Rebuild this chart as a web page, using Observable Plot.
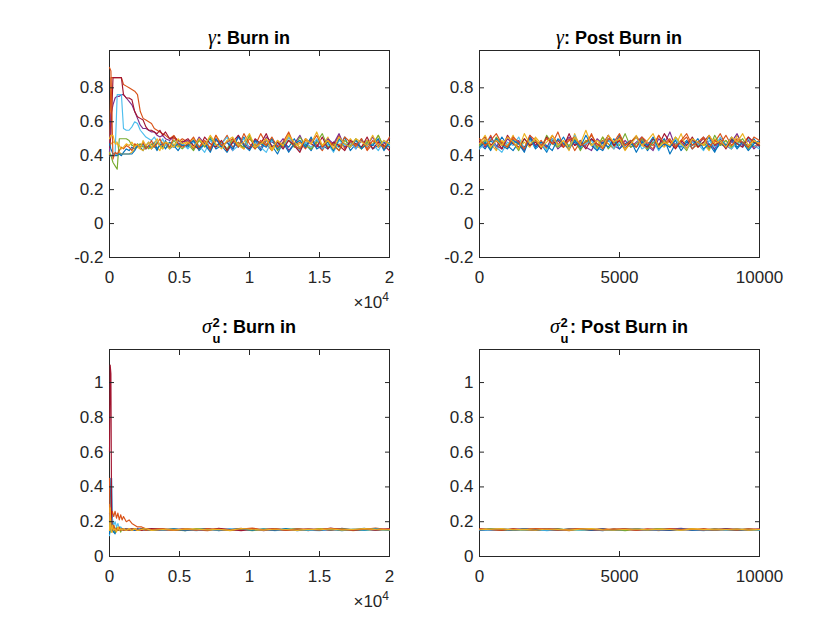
<!DOCTYPE html>
<html>
<head>
<meta charset="utf-8">
<script src="https://cdn.jsdelivr.net/npm/d3@7"></script>
<script src="https://cdn.jsdelivr.net/npm/@observablehq/plot@0.6"></script>
<style>
  body { margin: 0; background: #fff; }
  #wrap { position: relative; width: 840px; height: 630px; background: #fff; font-family: "Liberation Sans", Arial, sans-serif; overflow: hidden; }
  .ttl { position: absolute; width: 280px; text-align: center; font-size: 18px; line-height: 18px; font-weight: bold; color: #000; white-space: nowrap; }
  .gr { font-family: "Liberation Serif", "DejaVu Serif", serif; font-style: italic; font-weight: normal; font-size: 20px; }
  .ss { display: inline-block; position: relative; width: 10px; height: 0; }
  .ss span { position: absolute; left: 0.5px; font-size: 13px; line-height: 11px; font-weight: bold; }
  .ss .sp { bottom: 4.7px; }
  .ss .sb { bottom: -10.6px; }
  .exp { position: absolute; right: 451px; font-size: 17px; line-height: 17px; color: #262626; white-space: nowrap; }
  .exp sup { font-size: 12px; vertical-align: baseline; position: relative; top: -0.6em; }
</style>
</head>
<body>
<div id="wrap">
  <div class="ttl" style="left:109px; top:28px"><span class="gr">γ</span>: Burn in</div>
  <div class="ttl" style="left:479px; top:28px"><span class="gr">γ</span>: Post Burn in</div>
  <div class="ttl" style="left:109px; top:317px"><span class="gr">σ</span><span class="ss"><span class="sp">2</span><span class="sb">u</span></span>: Burn in</div>
  <div class="ttl" style="left:479px; top:317px"><span class="gr">σ</span><span class="ss"><span class="sp">2</span><span class="sb">u</span></span>: Post Burn in</div>
  <div class="exp" style="top:294px">×10<sup>4</sup></div>
  <div class="exp" style="top:593px">×10<sup>4</sup></div>
</div>
<script>
// MATLAB default colour order, cycled over 10 chains
const chainColors = ["#0072BD","#D95319","#EDB120","#7E2F8E","#77AC30","#4DBEEE","#A2142F","#0072BD","#D95319","#EDB120"];

// ---------- gamma, burn-in (iterations) ----------
const gBurnX = [0,100,250,400,550,700,850,1000,1200,1400,1600,1800,2000,2200,2400,2600,2800,3000,3200,3400,3600,3800,4000,4300,4600,4900,5200,
  5600,6000,6400,6800,7200,7600,8000,8400,8800,9200,9600,10000,10400,10800,11200,11600,12000,12400,12800,13200,13600,14000,14400,14800,15200,15600,16000,16400,16800,17200,17600,18000,18400,18800,19200,19600,20000];
const gB1 = [.41,.40,.40,.40,.40,.41,.40,.42,.44,.43,.45,.44,.47,.45,.43,.46,.48,.44,.46,.43,.47,.45,.49,.44,.46,.43,.47,
  .45,.49,.43,.47,.50,.44,.46,.42,.48,.45,.51,.44,.47,.43,.49,.46,.41,.48,.45,.50,.44,.47,.43,.49,.46,.44,.48,.45,.51,.43,.47,.45,.49,.44,.46,.48,.45];
const gB2 = [.40,.86,.86,.86,.86,.86,.86,.82,.81,.80,.79,.78,.76,.66,.62,.61,.60,.59,.56,.55,.54,.53,.52,.50,.52,.48,.50,
  .48,.44,.50,.46,.43,.49,.47,.52,.45,.48,.44,.50,.46,.53,.47,.43,.49,.45,.51,.46,.48,.44,.50,.47,.43,.49,.46,.52,.44,.48,.45,.50,.43,.47,.49,.44,.46];
const gB3 = [.44,.47,.48,.48,.48,.42,.41,.41,.41,.41,.42,.44,.45,.44,.43,.46,.45,.44,.47,.45,.43,.48,.46,.44,.47,.45,.49,
  .46,.50,.44,.48,.45,.52,.47,.43,.49,.46,.44,.51,.47,.45,.50,.43,.48,.46,.53,.45,.47,.49,.44,.48,.46,.51,.43,.47,.45,.50,.46,.44,.49,.47,.52,.45,.48];
const gB4 = [.42,.64,.70,.74,.75,.75,.76,.76,.74,.72,.70,.66,.62,.58,.56,.56,.55,.54,.54,.52,.51,.52,.50,.49,.51,.47,.48,
  .49,.45,.51,.47,.44,.50,.46,.48,.43,.52,.47,.45,.49,.44,.51,.48,.46,.50,.43,.47,.52,.45,.49,.46,.44,.50,.47,.53,.45,.48,.44,.49,.46,.51,.45,.47,.50];
const gB5 = [.42,.40,.36,.34,.32,.50,.50,.50,.50,.49,.46,.46,.46,.47,.45,.46,.44,.47,.45,.48,.46,.44,.47,.45,.49,.46,.44,
  .47,.43,.49,.45,.51,.46,.48,.44,.50,.47,.45,.52,.44,.48,.46,.50,.43,.47,.49,.45,.51,.46,.44,.48,.53,.45,.47,.43,.49,.46,.50,.44,.48,.46,.52,.45,.47];
const gB6 = [.40,.40,.41,.41,.76,.76,.76,.56,.55,.55,.57,.60,.59,.55,.53,.51,.50,.49,.51,.48,.47,.50,.46,.48,.45,.49,.47,
  .44,.48,.46,.42,.49,.45,.47,.51,.43,.46,.50,.44,.48,.45,.42,.49,.47,.44,.51,.46,.43,.48,.45,.50,.44,.47,.42,.49,.46,.48,.44,.50,.45,.47,.43,.49,.46];
const gB7 = [.45,.52,.86,.86,.86,.86,.86,.76,.74,.74,.73,.66,.63,.62,.61,.57,.55,.55,.54,.53,.55,.52,.54,.50,.51,.49,.48,
  .50,.46,.44,.51,.47,.45,.49,.43,.48,.52,.46,.44,.50,.47,.53,.45,.48,.44,.49,.46,.42,.50,.47,.45,.51,.44,.48,.46,.43,.49,.47,.45,.51,.44,.48,.46,.43];
const gB8 = [.47,.44,.41,.41,.41,.41,.41,.41,.41,.41,.41,.43,.46,.45,.47,.44,.46,.45,.48,.44,.46,.47,.44,.48,.45,.47,.46,
  .46,.49,.44,.47,.42,.50,.45,.48,.44,.51,.46,.43,.49,.47,.45,.50,.44,.48,.42,.47,.49,.45,.51,.44,.46,.48,.43,.50,.47,.45,.49,.44,.47,.46,.50,.43,.48];
const gB9 = [.92,.90,.38,.42,.41,.43,.45,.44,.46,.45,.43,.47,.46,.45,.48,.44,.46,.49,.45,.47,.50,.46,.48,.45,.51,.47,.45,
  .47,.51,.45,.49,.44,.52,.46,.48,.50,.45,.53,.47,.44,.49,.46,.51,.45,.48,.54,.46,.44,.50,.47,.52,.45,.49,.46,.43,.51,.48,.46,.50,.44,.49,.47,.45,.51];
const gB10 = [.50,.52,.52,.47,.47,.46,.44,.45,.47,.46,.48,.45,.47,.44,.49,.46,.48,.45,.47,.50,.46,.44,.48,.47,.45,.50,.47,
  .48,.45,.50,.46,.52,.47,.44,.49,.51,.46,.48,.53,.45,.47,.50,.44,.49,.46,.52,.48,.45,.50,.47,.54,.46,.49,.44,.51,.47,.45,.50,.48,.46,.52,.45,.49,.47];

// ---------- gamma, post burn-in ----------
const gPostX = [0,200,400,600,800,1000,1200,1400,1600,1800,2000,2200,2400,2600,2800,3000,3200,3400,3600,3800,4000,4200,4400,4600,4800,5000,
  5200,5400,5600,5800,6000,6200,6400,6600,6800,7000,7200,7400,7600,7800,8000,8200,8400,8600,8800,9000,9200,9400,9600,9800,10000];
const gP1 = [.47,.44,.49,.45,.51,.46,.43,.48,.45,.50,.44,.47,.42,.49,.46,.51,.45,.48,.44,.47,.50,.45,.43,.49,.46,.52,.44,.47,.45,.49,.43,.48,.46,.50,.41,.47,.45,.49,.44,.48,.46,.51,.43,.47,.45,.49,.44,.48,.46,.50,.45];
const gP2 = [.49,.46,.52,.44,.48,.45,.50,.47,.43,.51,.46,.49,.44,.52,.47,.45,.50,.43,.48,.46,.53,.45,.49,.47,.44,.51,.46,.48,.45,.50,.47,.44,.52,.46,.49,.45,.48,.51,.44,.47,.50,.45,.48,.53,.46,.44,.49,.47,.51,.45,.48];
const gP3 = [.45,.50,.47,.43,.49,.46,.52,.44,.48,.45,.51,.47,.44,.50,.46,.48,.43,.53,.45,.49,.46,.44,.51,.47,.45,.49,.43,.48,.52,.46,.44,.50,.47,.45,.49,.46,.53,.44,.48,.45,.47,.43,.50,.46,.49,.44,.52,.47,.45,.49,.46];
const gP4 = [.48,.45,.51,.46,.44,.50,.47,.49,.43,.52,.46,.48,.45,.50,.44,.47,.51,.46,.49,.45,.43,.50,.47,.52,.46,.44,.49,.45,.48,.51,.46,.43,.50,.47,.54,.45,.48,.44,.49,.46,.51,.47,.44,.50,.45,.48,.53,.46,.49,.44,.47];
const gP5 = [.46,.49,.44,.51,.47,.45,.48,.43,.50,.46,.49,.44,.52,.47,.45,.48,.46,.50,.43,.49,.47,.45,.51,.44,.48,.46,.53,.45,.47,.50,.44,.48,.46,.49,.45,.51,.47,.43,.50,.46,.48,.44,.52,.46,.49,.45,.47,.50,.44,.48,.46];
const gP6 = [.44,.47,.50,.45,.42,.48,.46,.51,.44,.49,.45,.47,.43,.50,.46,.48,.44,.52,.45,.47,.49,.43,.46,.50,.44,.48,.45,.47,.51,.44,.46,.49,.43,.48,.45,.50,.46,.44,.48,.47,.43,.49,.45,.51,.46,.44,.48,.45,.50,.46,.44];
const gP7 = [.48,.51,.46,.49,.44,.52,.47,.45,.50,.46,.48,.44,.51,.47,.49,.45,.53,.46,.48,.44,.50,.47,.45,.52,.46,.49,.44,.48,.51,.47,.45,.50,.46,.53,.48,.44,.49,.46,.51,.45,.48,.52,.46,.49,.44,.50,.47,.45,.51,.48,.46];
const gP8 = [.45,.48,.43,.50,.46,.44,.49,.47,.42,.51,.45,.48,.46,.43,.50,.47,.44,.49,.45,.52,.46,.43,.48,.45,.50,.44,.47,.49,.42,.48,.46,.51,.44,.47,.45,.49,.43,.48,.46,.50,.44,.47,.42,.49,.46,.51,.45,.48,.43,.47,.49];
const gP9 = [.50,.46,.49,.53,.47,.45,.51,.48,.44,.52,.49,.46,.50,.47,.54,.45,.49,.51,.46,.48,.52,.47,.44,.50,.48,.53,.46,.49,.45,.51,.48,.46,.52,.47,.50,.45,.49,.53,.46,.48,.51,.45,.49,.47,.52,.46,.50,.48,.45,.51,.49];
const gP10 = [.47,.52,.45,.49,.46,.51,.48,.44,.53,.47,.50,.45,.48,.52,.46,.49,.44,.51,.47,.55,.46,.49,.45,.52,.48,.50,.44,.47,.51,.46,.49,.53,.45,.48,.46,.51,.47,.44,.50,.48,.46,.52,.47,.49,.45,.51,.48,.53,.46,.49,.47];

// ---------- sigma_u^2, burn-in ----------
const sBurnX = [0,50,100,150,200,300,400,500,600,700,800,900,1000,1200,1400,1600,1800,2000,2300,2600,3000,
  3800,4600,5400,6200,7000,7800,8600,9400,10200,11000,11800,12600,13400,14200,15000,15800,16600,17400,18200,19000,20000];
const sB1 = [.20,.30,.45,.45,.18,.14,.13,.17,.15,.16,.15,.16,.15,.16,.15,.16,.155,.15,.16,.155,.15,
  .152,.158,.150,.156,.161,.149,.155,.159,.151,.157,.153,.160,.148,.156,.152,.158,.150,.155,.162,.151,.156];
const sB2 = [.22,.26,.27,.24,.26,.23,.26,.22,.25,.21,.24,.21,.23,.20,.21,.19,.18,.17,.17,.16,.16,
  .157,.151,.160,.153,.149,.158,.155,.162,.150,.156,.159,.152,.157,.149,.161,.154,.158,.151,.156,.163,.153];
const sB3 = [.30,.14,.15,.16,.14,.17,.15,.16,.15,.16,.15,.16,.15,.155,.16,.15,.16,.155,.15,.16,.155,
  .154,.160,.151,.157,.153,.159,.148,.156,.161,.152,.155,.150,.158,.154,.160,.151,.157,.149,.155,.159,.152];
const sB4 = [.25,.18,.16,.15,.17,.15,.16,.15,.16,.15,.16,.155,.15,.16,.155,.15,.16,.15,.155,.16,.15,
  .150,.155,.161,.152,.158,.150,.156,.153,.160,.149,.157,.154,.151,.159,.155,.150,.162,.153,.157,.151,.158];
const sB5 = [.15,.20,.14,.19,.15,.18,.14,.17,.15,.16,.14,.16,.15,.16,.15,.155,.16,.15,.16,.155,.15,
  .158,.153,.149,.160,.154,.157,.151,.155,.148,.159,.152,.156,.161,.150,.157,.153,.159,.155,.150,.156,.154];
const sB6 = [.12,.16,.22,.20,.22,.18,.20,.17,.19,.16,.17,.16,.15,.16,.15,.16,.15,.16,.155,.15,.16,
  .151,.157,.154,.148,.156,.152,.160,.150,.155,.158,.149,.154,.157,.152,.148,.159,.153,.156,.151,.157,.150];
const sB7 = [.60,1.1,1.05,.22,.15,.17,.15,.16,.15,.16,.155,.15,.16,.15,.155,.16,.15,.16,.15,.155,.16,
  .156,.150,.158,.154,.151,.162,.155,.149,.157,.153,.160,.151,.155,.158,.152,.164,.154,.150,.157,.153,.159];
const sB8 = [.13,.22,.17,.15,.16,.14,.16,.15,.16,.15,.16,.15,.155,.16,.15,.16,.15,.155,.16,.15,.155,
  .153,.159,.149,.155,.157,.151,.154,.160,.152,.156,.150,.158,.153,.155,.151,.157,.149,.156,.153,.158,.151];
const sB9 = [.45,.20,.17,.15,.16,.18,.15,.16,.15,.17,.15,.16,.15,.16,.15,.16,.155,.15,.16,.15,.155,
  .159,.154,.156,.151,.160,.155,.152,.158,.163,.154,.156,.151,.159,.155,.153,.161,.156,.152,.158,.154,.157];
const sB10 = [.15,.28,.16,.14,.18,.15,.16,.14,.17,.15,.16,.15,.16,.15,.16,.15,.16,.15,.155,.16,.15,
  .155,.152,.159,.157,.153,.156,.150,.161,.155,.152,.158,.155,.150,.157,.154,.159,.152,.156,.160,.155,.153];

// ---------- sigma_u^2, post burn-in ----------
const sPostX = [0,400,800,1200,1600,2000,2400,2800,3200,3600,4000,4400,4800,5200,5600,6000,6400,6800,7200,7600,8000,8400,8800,9200,9600,10000];
const sP1 = [.156,.151,.158,.153,.160,.150,.155,.157,.152,.159,.154,.149,.157,.153,.158,.151,.156,.160,.152,.155,.150,.157,.153,.159,.151,.155];
const sP2 = [.152,.158,.154,.150,.157,.161,.153,.156,.149,.158,.155,.160,.151,.157,.154,.150,.159,.153,.156,.152,.161,.154,.150,.158,.155,.153];
const sP3 = [.158,.153,.150,.156,.152,.159,.155,.151,.157,.154,.150,.158,.155,.161,.152,.156,.149,.157,.153,.159,.155,.151,.157,.154,.160,.152];
const sP4 = [.150,.155,.159,.152,.156,.153,.158,.150,.155,.160,.153,.157,.151,.155,.159,.154,.151,.157,.162,.153,.156,.150,.158,.153,.155,.157];
const sP5 = [.155,.160,.152,.157,.150,.156,.153,.159,.154,.151,.158,.152,.156,.149,.157,.155,.160,.151,.155,.158,.152,.159,.154,.151,.156,.154];
const sP6 = [.153,.150,.157,.155,.152,.158,.149,.154,.156,.152,.157,.150,.154,.158,.151,.155,.153,.150,.157,.154,.149,.156,.152,.155,.158,.151];
const sP7 = [.157,.154,.151,.159,.155,.152,.160,.156,.153,.158,.151,.156,.154,.159,.152,.157,.155,.150,.158,.154,.156,.152,.160,.155,.153,.158];
const sP8 = [.151,.157,.155,.150,.158,.153,.156,.151,.159,.155,.152,.158,.150,.155,.157,.153,.156,.152,.158,.151,.155,.153,.157,.150,.156,.154];
const sP9 = [.159,.155,.153,.158,.154,.160,.156,.152,.157,.161,.155,.153,.159,.156,.152,.158,.154,.160,.155,.157,.153,.158,.156,.152,.159,.155];
const sP10 = [.154,.157,.160,.153,.156,.151,.158,.155,.152,.157,.160,.154,.151,.156,.158,.153,.157,.155,.151,.159,.156,.153,.155,.158,.152,.156];

// ---------- axis ticks ----------
const burnTicks = [0,5000,10000,15000,20000];
const burnTickLabels = ["0","0.5","1","1.5","2"];
const postTicks = [0,5000,10000];
const gammaYTicks = [-0.2,0,0.2,0.4,0.6,0.8];
const sigmaYTicks = [0,0.2,0.4,0.6,0.8,1];

function panel({xs, chains, xDomain, xTicks, xFmt, yDomain, yTicks, left, top}) {
  const marks = [Plot.frame({stroke: "#262626", strokeWidth: 1})];
  chains.forEach((ys, i) => {
    marks.push(Plot.line(ys, {x: (d, j) => xs[j], y: d => d, stroke: chainColors[i], strokeWidth: 1.15}));
  });
  marks.push(
    Plot.axisX(xTicks, {anchor: "bottom", tickSize: -5, tickPadding: 18, tickFormat: xFmt, label: null, stroke: "#262626", fill: "#262626"}),
    Plot.axisX(xTicks, {anchor: "top", tickSize: -5, fill: "none", label: null, stroke: "#262626"}),
    Plot.axisY(yTicks, {anchor: "left", tickSize: -5, tickPadding: 11, tickFormat: d => String(d), label: null, stroke: "#262626", fill: "#262626"}),
    Plot.axisY(yTicks, {anchor: "right", tickSize: -5, fill: "none", label: null, stroke: "#262626"})
  );
  const svg = Plot.plot({
    width: 360, height: 267,
    marginLeft: 60, marginRight: 20, marginTop: 20, marginBottom: 40,
    x: {domain: xDomain},
    y: {domain: yDomain},
    style: {fontFamily: "'Liberation Sans', Arial, sans-serif", fontSize: "17px", background: "transparent", overflow: "visible", color: "#262626"},
    marks
  });
  svg.style.position = "absolute";
  svg.style.left = left + "px";
  svg.style.top = top + "px";
  document.getElementById("wrap").appendChild(svg);
}

const burnFmt = d => burnTickLabels[burnTicks.indexOf(d)];
const postFmt = d => String(d);

panel({xs: gBurnX, chains: [gB1,gB2,gB3,gB4,gB5,gB6,gB7,gB8,gB9,gB10], xDomain: [0,20000], xTicks: burnTicks, xFmt: burnFmt, yDomain: [-0.2,1.02], yTicks: gammaYTicks, left: 49, top: 30});
panel({xs: gPostX, chains: [gP1,gP2,gP3,gP4,gP5,gP6,gP7,gP8,gP9,gP10], xDomain: [0,10000], xTicks: postTicks, xFmt: postFmt, yDomain: [-0.2,1.02], yTicks: gammaYTicks, left: 419, top: 30});
panel({xs: sBurnX, chains: [sB1,sB2,sB3,sB4,sB5,sB6,sB7,sB8,sB9,sB10], xDomain: [0,20000], xTicks: burnTicks, xFmt: burnFmt, yDomain: [0,1.19], yTicks: sigmaYTicks, left: 49, top: 329});
panel({xs: sPostX, chains: [sP1,sP2,sP3,sP4,sP5,sP6,sP7,sP8,sP9,sP10], xDomain: [0,10000], xTicks: postTicks, xFmt: postFmt, yDomain: [0,1.19], yTicks: sigmaYTicks, left: 419, top: 329});
</script>
</body>
</html>
